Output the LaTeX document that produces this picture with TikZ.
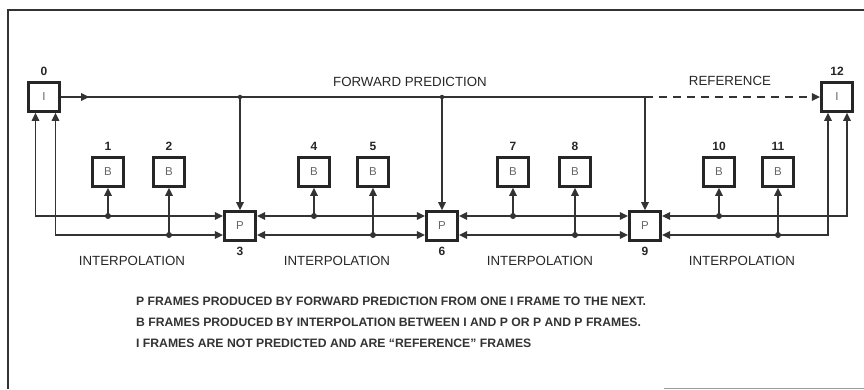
\documentclass[tikz,border=0pt]{standalone}
\usepackage{fontspec}
\setmainfont{Liberation Sans}
\usetikzlibrary{arrows.meta,positioning}
\tikzset{
  frame/.style={draw=black!85, line width=3.2pt, minimum width=31pt, minimum height=28.5pt,
    inner sep=0pt, font=\fontsize{11.5}{12}\selectfont, text=black!60},
  num/.style={font=\bfseries\fontsize{12}{13}\selectfont, text=black!85},
  lab/.style={font=\fontsize{13.3}{14}\selectfont, text=black!85},
  note/.style={font=\bfseries\fontsize{12.2}{13}\selectfont, text=black!80, anchor=west, inner sep=0pt},
  link/.style={draw=black!80, line width=1.6pt},
  tip/.style={-{Triangle[length=8pt,width=7.5pt]}},
  tips/.style={{Triangle[length=8pt,width=7.5pt]}-{Triangle[length=8pt,width=7.5pt]}},
  dot/.style={circle, fill=black!80, inner sep=0pt, minimum size=6pt}
}
\begin{document}
\begin{tikzpicture}[x=1pt, y=-1pt]
    \useasboundingbox (0,0) rectangle (864,389);
    % border
    \draw[black!80, line width=1.6pt] (864,10) -- (8,10) -- (8,389);
    \draw[black!40, line width=1pt] (664,388) -- (864,388);
    % I frames
    \node[frame] (i0) at (44,97) {I};
    \node[frame] (i12) at (837,97) {I};
    \node[num, above=2pt of i0] {0};
    \node[num, above=2pt of i12] {12};
    % P frames
    \foreach \n/\x in {3/240, 6/442, 9/645} {
        \node[frame] (p\n) at (\x,226) {P};
        \node[num, below=2pt of p\n] {\n};
    }
    % B frames
    \foreach \n/\x in {1/108, 2/169, 4/314, 5/373, 7/513, 8/575, 10/719, 11/778} {
        \node[frame] (b\n) at (\x,172) {B};
        \node[num, above=2pt of b\n] {\n};
    }
    % forward prediction
    \coordinate (fw3) at (p3 |- i0);
    \coordinate (fw6) at (p6 |- i0);
    \coordinate (fw9) at (p9 |- i0);
    \draw[link] (i0.east) -- (fw9);
    \draw[link, tip] (i0.east) -- ++(28,0);
    \draw[link, tip, dash pattern=on 8pt off 6pt] (fw9) -- (i12.west);
    \foreach \n in {3,6,9} \draw[link, tip] (fw\n) -- (p\n.north);
    \node[dot, minimum size=4.5pt] at (fw3) {};
    \node[dot, minimum size=4.5pt] at (fw6) {};
    % interpolation
    \coordinate (u3) at ([yshift=10pt]p3.west);
    \coordinate (l3) at ([yshift=-9pt]p3.west);
    \coordinate (u6) at ([yshift=10pt]p6.west);
    \coordinate (l6) at ([yshift=-9pt]p6.west);
    \coordinate (u9) at ([yshift=10pt]p9.west);
    \coordinate (l9) at ([yshift=-9pt]p9.west);
    \draw[link, tips] ([xshift=-8.5pt]i0.south) |- (u3);
    \draw[link, tips] ([xshift=11.5pt]i0.south) |- (l3);
    \draw[link, tips] ([yshift=10pt]p3.east) -- (u6);
    \draw[link, tips] ([yshift=-9pt]p3.east) -- (l6);
    \draw[link, tips] ([yshift=10pt]p6.east) -- (u9);
    \draw[link, tips] ([yshift=-9pt]p6.east) -- (l9);
    \draw[link, tips] ([yshift=10pt]p9.east) -| ([xshift=10pt]i12.south);
    \draw[link, tips] ([yshift=-9pt]p9.east) -| ([xshift=-9pt]i12.south);
    \foreach \b/\c in {1/u3, 2/l3, 4/u6, 5/l6, 7/u9, 8/l9, 10/u9, 11/l9} {
        \draw[link, tip] (b\b |- \c) -- (b\b.south);
        \node[dot] at (b\b |- \c) {};
    }
    % labels
    \node[lab] (fwlab) at (410,82) {FORWARD PREDICTION};
    \node[lab] (reflab) at (730,81) {REFERENCE};
    \foreach \x [count=\k] in {132, 337, 540, 742}
        \node[lab] (ip\k) at (\x,261) {INTERPOLATION};
    % notes
    \node[note] (n1) at (136,301) {P FRAMES PRODUCED BY FORWARD PREDICTION FROM ONE I FRAME TO THE NEXT.};
    \node[note] (n2) at (136,322) {B FRAMES PRODUCED BY INTERPOLATION BETWEEN I AND P OR P AND P FRAMES.};
    \node[note] (n3) at (136,343) {I FRAMES ARE NOT PREDICTED AND ARE ``REFERENCE'' FRAMES};
\end{tikzpicture}
\end{document}
